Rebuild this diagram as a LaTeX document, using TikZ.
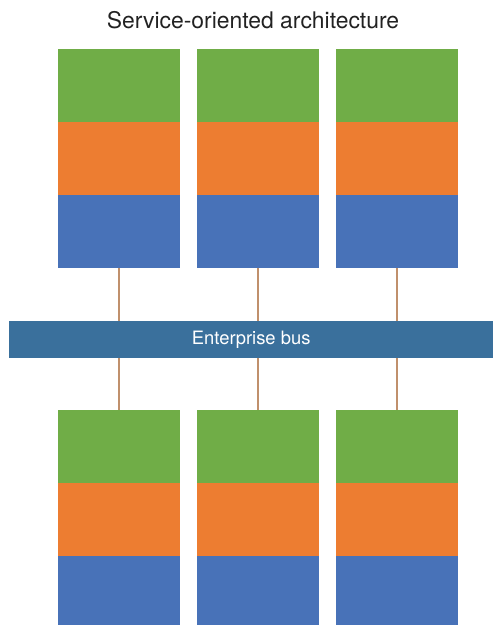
\documentclass[tikz,border=0pt]{standalone}
\usepackage{fontspec}
\setmainfont{TeX Gyre Heros}
\definecolor{cgreen}{HTML}{70AD47}
\definecolor{corange}{HTML}{ED7D31}
\definecolor{cblue}{HTML}{4872B8}
\definecolor{cbus}{HTML}{3A709C}
\definecolor{clink}{HTML}{C0906C}
\definecolor{ctitle}{HTML}{222222}
\begin{document}
\begin{tikzpicture}[x=1pt,y=-1pt,
  layer/.style={draw=none,minimum width=122pt,minimum height=73pt,inner sep=0pt,outer sep=0pt,anchor=north west},
  link/.style={draw=clink,line width=2pt}]
\useasboundingbox (0,0) rectangle (493,625);
\node[text=ctitle,font=\fontsize{22.9}{26}\selectfont,anchor=base] (title) at (253,28) {Service-oriented architecture};
\foreach \i/\x in {1/58,2/197,3/336}{
  \node[layer,fill=cgreen] (tg\i) at (\x,49) {};
  \node[layer,fill=corange] (to\i) at (\x,122) {};
  \node[layer,fill=cblue] (tb\i) at (\x,195) {};
  \node[layer,fill=cgreen] (bg\i) at (\x,410) {};
  \node[layer,fill=corange] (bo\i) at (\x,483) {};
  \node[layer,fill=cblue] (bb\i) at (\x,556) {};
}
\node[fill=cbus,minimum width=484pt,minimum height=37pt,inner sep=0pt,anchor=north west,text=white,font=\fontsize{18.4}{20}\selectfont] (bus) at (9,321) {Enterprise bus};
\foreach \i in {1,2,3}{
  \draw[link] (tb\i.south) -- (tb\i.south |- bus.north);
  \draw[link] (bg\i.north |- bus.south) -- (bg\i.north);
}
\end{tikzpicture}
\end{document}
